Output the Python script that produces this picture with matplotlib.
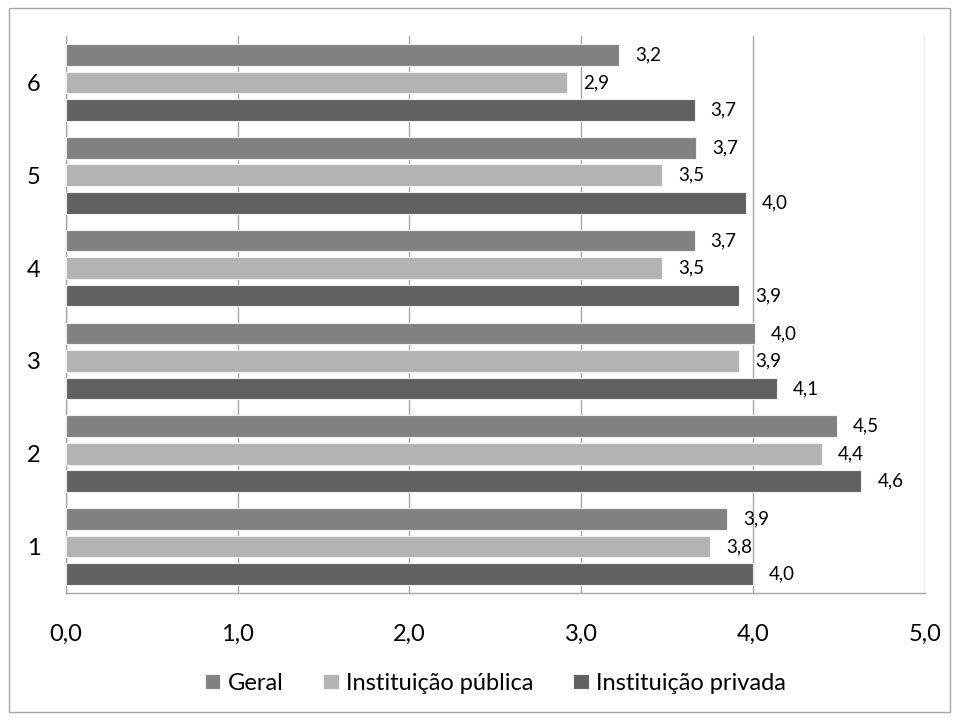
import numpy as np
import matplotlib
matplotlib.use("Agg")
import matplotlib.pyplot as plt
from matplotlib.patches import Rectangle

plt.rcParams['font.family'] = ['Lato', 'DejaVu Sans']

# dados
categorias = ['1', '2', '3', '4', '5', '6']
geral = [3.85, 4.49, 4.01, 3.66, 3.67, 3.22]
publica = [3.75, 4.40, 3.92, 3.47, 3.47, 2.92]
privada = [4.00, 4.63, 4.14, 3.92, 3.96, 3.66]
series = ['Geral', 'Instituição pública', 'Instituição privada']
cores = ['#818181', '#b3b3b3', '#616161']
xticks = [0, 1, 2, 3, 4, 5]

fig = plt.figure(figsize=(9.6, 7.2), dpi=100)
ax = fig.add_axes([0.0684, 0.1764, 0.895, 0.7736])

y = np.arange(1, len(categorias) + 1)
passo = 0.296
altura = 0.234
valores = [geral, publica, privada]
desloc = [passo, 0, -passo]

for vals, nome, cor, d in zip(valores, series, cores, desloc):
    barras = ax.barh(y + d, vals, height=altura, color=cor, label=nome,
                     edgecolor='#f0f0f0', linewidth=0.8, zorder=3)
    for b, v in zip(barras, vals):
        ax.annotate(f'{v:.1f}'.replace('.', ','),
                    (b.get_width(), b.get_y() + b.get_height() / 2),
                    xytext=(16, 0), textcoords='offset pixels',
                    ha='left', va='center', fontsize=13.5, color='#000000')

ax.set_xlim(0, 5)
ax.set_ylim(0.5, 6.5)
ax.set_xticks(xticks)
ax.set_xticklabels([f'{t:.1f}'.replace('.', ',') for t in xticks], fontsize=17)
ax.set_yticks(y)
ax.set_yticklabels(categorias, fontsize=17)
ax.tick_params(axis='x', length=0, pad=22)
ax.tick_params(axis='y', length=0, pad=18)
ax.grid(axis='x', color='#a6a6a6', linewidth=1, zorder=0)
ax.set_axisbelow(True)
for s in ['top', 'right']:
    ax.spines[s].set_visible(False)
for s in ['left', 'bottom']:
    ax.spines[s].set_color('#a6a6a6')
    ax.spines[s].set_linewidth(1)

leg = ax.legend(loc='center', bbox_to_anchor=(0.5, -0.162), ncol=3, frameon=False,
                fontsize=17, handlelength=0.65, handleheight=0.65, handletextpad=0.3,
                columnspacing=1.7)

fig.patches.append(Rectangle((9 / 960, 8 / 720), 941 / 960, 704 / 720,
                             transform=fig.transFigure, fill=False,
                             edgecolor='#a6a6a6', linewidth=1))

fig.savefig('out.png', dpi=100)
